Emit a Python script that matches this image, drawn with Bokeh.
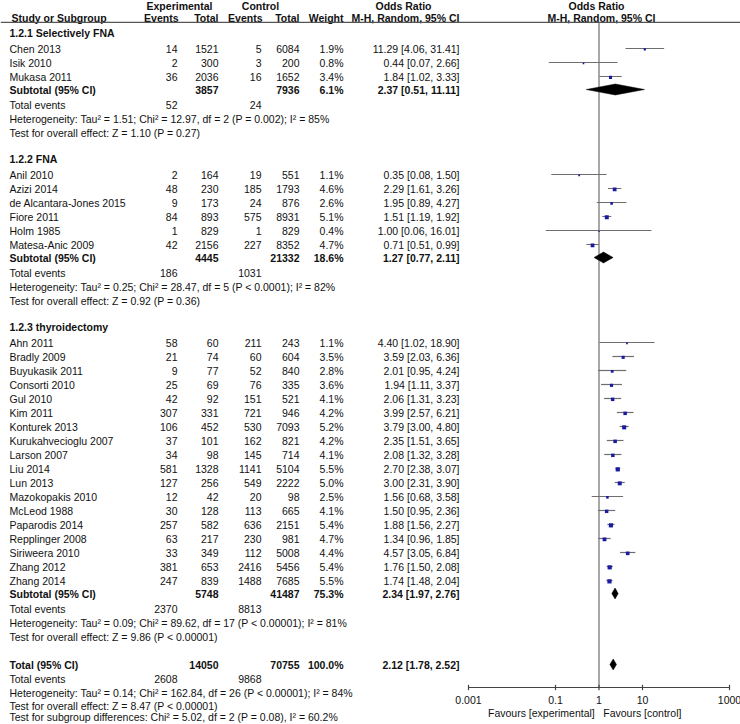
from bokeh.plotting import figure
from bokeh.models import Range1d, LogScale
from bokeh.core.properties import value
from bokeh.embed import file_html
from bokeh.resources import INLINE

# ---------------- data ----------------
group_titles = ["1.2.1 Selectively FNA", "1.2.2 FNA", "1.2.3 thyroidectomy"]

study_group = [0, 0, 0,
               1, 1, 1, 1, 1, 1,
               2, 2, 2, 2, 2, 2, 2, 2, 2, 2, 2, 2, 2, 2, 2, 2, 2, 2]
study_names = ["Chen 2013", "Isik 2010", "Mukasa 2011",
               "Anil 2010", "Azizi 2014", "de Alcantara-Jones 2015", "Fiore 2011", "Holm 1985", "Matesa-Anic 2009",
               "Ahn 2011", "Bradly 2009", "Buyukasik 2011", "Consorti 2010", "Gul 2010", "Kim 2011",
               "Konturek 2013", "Kurukahvecioglu 2007", "Larson 2007", "Liu 2014", "Lun 2013",
               "Mazokopakis 2010", "McLeod 1988", "Paparodis 2014", "Repplinger 2008", "Siriweera 2010",
               "Zhang 2012", "Zhang 2014"]
exp_events = [14, 2, 36,
              2, 48, 9, 84, 1, 42,
              58, 21, 9, 25, 42, 307, 106, 37, 34, 581, 127, 12, 30, 257, 63, 33, 381, 247]
exp_total = [1521, 300, 2036,
             164, 230, 173, 893, 829, 2156,
             60, 74, 77, 69, 92, 331, 452, 101, 98, 1328, 256, 42, 128, 582, 217, 349, 653, 839]
ctrl_events = [5, 3, 16,
               19, 185, 24, 575, 1, 227,
               211, 60, 52, 76, 151, 721, 530, 162, 145, 1141, 549, 20, 113, 636, 230, 112, 2416, 1488]
ctrl_total = [6084, 200, 1652,
              551, 1793, 876, 8931, 829, 8352,
              243, 604, 840, 335, 521, 946, 7093, 821, 714, 5104, 2222, 98, 665, 2151, 981, 5008, 5456, 7685]
weights = [1.9, 0.8, 3.4,
           1.1, 4.6, 2.6, 5.1, 0.4, 4.7,
           1.1, 3.5, 2.8, 3.6, 4.1, 4.2, 5.2, 4.2, 4.1, 5.5, 5.0, 2.5, 4.1, 5.4, 4.7, 4.4, 5.4, 5.5]
or_est = [11.29, 0.44, 1.84,
          0.35, 2.29, 1.95, 1.51, 1.00, 0.71,
          4.40, 3.59, 2.01, 1.94, 2.06, 3.99, 3.79, 2.35, 2.08, 2.70, 3.00, 1.56, 1.50, 1.88, 1.34, 4.57, 1.76, 1.74]
or_lo = [4.06, 0.07, 1.02,
         0.08, 1.61, 0.89, 1.19, 0.06, 0.51,
         1.02, 2.03, 0.95, 1.11, 1.31, 2.57, 3.00, 1.51, 1.32, 2.38, 2.31, 0.68, 0.95, 1.56, 0.96, 3.05, 1.50, 1.48]
or_hi = [31.41, 2.66, 3.33,
         1.50, 3.26, 4.27, 1.92, 16.01, 0.99,
         18.90, 6.36, 4.24, 3.37, 3.23, 6.21, 4.80, 3.65, 3.28, 3.07, 3.90, 3.58, 2.36, 2.27, 1.85, 6.84, 2.08, 2.04]

sub_exp_total = [3857, 4445, 5748]
sub_ctrl_total = [7936, 21332, 41487]
sub_weight = [6.1, 18.6, 75.3]
sub_est = [2.37, 1.27, 2.34]
sub_lo = [0.51, 0.77, 1.97]
sub_hi = [11.11, 2.11, 2.76]
sub_exp_events = [52, 186, 2370]
sub_ctrl_events = [24, 1031, 8813]
sub_het = ["Heterogeneity: Tau\u00b2 = 1.51; Chi\u00b2 = 12.97, df = 2 (P = 0.002); I\u00b2 = 85%",
           "Heterogeneity: Tau\u00b2 = 0.25; Chi\u00b2 = 28.47, df = 5 (P < 0.0001); I\u00b2 = 82%",
           "Heterogeneity: Tau\u00b2 = 0.09; Chi\u00b2 = 89.62, df = 17 (P < 0.00001); I\u00b2 = 81%"]
sub_test = ["Test for overall effect: Z = 1.10 (P = 0.27)",
            "Test for overall effect: Z = 0.92 (P = 0.36)",
            "Test for overall effect: Z = 9.86 (P < 0.00001)"]

tot_exp_total, tot_ctrl_total, tot_weight = 14050, 70755, 100.0
tot_est, tot_lo, tot_hi = 2.12, 1.78, 2.52
tot_exp_events, tot_ctrl_events = 2608, 9868
tot_het = "Heterogeneity: Tau\u00b2 = 0.14; Chi\u00b2 = 162.84, df = 26 (P < 0.00001); I\u00b2 = 84%"
tot_test = "Test for overall effect: Z = 8.47 (P < 0.00001)"
tot_subgroup = "Test for subgroup differences: Chi\u00b2 = 5.02, df = 2 (P = 0.08), I\u00b2 = 60.2%"

axis_ticks = [0.001, 0.1, 1, 10, 1000]
axis_tick_labels = ["0.001", "0.1", "1", "10", "1000"]
favours_left = "Favours [experimental]"
favours_right = "Favours [control]"

# ---------------- layout ----------------
FONT = value("Liberation Sans")
FS = "10.5px"
TXT = "#111111"

X_NAME = 9
X_EEV, X_ETOT, X_CEV, X_CTOT, X_W, X_OR = 177, 218, 261, 299, 343, 459

W, Hpx = 740, 724
ROW0, STEP = 48.0, 14.0           # pixel centre of first study row, row pitch
y_top = -ROW0 / STEP
y_bot = (Hpx - ROW0) / STEP
ONE_X, DECADE = 598.5, 43.5       # where OR = 1 sits, pixels per decade
lg_lo = -ONE_X / DECADE
lg_hi = (W - ONE_X) / DECADE

p = figure(width=W, height=Hpx, x_range=Range1d(0, W), y_range=Range1d(y_bot, y_top),
           output_backend="svg", toolbar_location=None, min_border=0,
           x_axis_location=None, y_axis_location=None)
p.grid.visible = False
p.outline_line_color = None
p.background_fill_color = "white"
p.border_fill_color = "white"
p.extra_x_ranges = {"or": Range1d(10 ** lg_lo, 10 ** lg_hi)}
p.extra_x_scales = {"or": LogScale()}

texts = {}  # key (align, bold) -> lists


def add_text(x, y, t, align="left", bold=False):
    d = texts.setdefault((align, bold), {"x": [], "y": [], "t": []})
    d["x"].append(x)
    d["y"].append(y)
    d["t"].append(t)


def fmt_or(e, lo, hi):
    return f"{e:.2f} [{lo:.2f}, {hi:.2f}]"


# headers
HR1, HR2, RULE = -3.07, -2.2, -1.86
add_text(179, HR1, "Experimental", "center", True)
add_text(260, HR1, "Control", "center", True)
add_text(403, HR1, "Odds Ratio", "center", True)
add_text(596, HR1, "Odds Ratio", "center", True)
add_text(11, HR2, "Study or Subgroup", "left", True)
add_text(178, HR2, "Events", "right", True)
add_text(218, HR2, "Total", "right", True)
add_text(262, HR2, "Events", "right", True)
add_text(299, HR2, "Total", "right", True)
add_text(343, HR2, "Weight", "right", True)
add_text(405, HR2, "M-H, Random, 95% CI", "center", True)
add_text(601, HR2, "M-H, Random, 95% CI", "center", True)

study_rows = []
sub_rows = []
row = -1
for g, title in enumerate(group_titles):
    add_text(X_NAME, row - 0.12, title, "left", True)
    row += 1
    for i in range(len(study_names)):
        if study_group[i] != g:
            continue
        study_rows.append(row)
        add_text(X_NAME, row, study_names[i])
        add_text(X_EEV, row, str(exp_events[i]), "right")
        add_text(X_ETOT, row, str(exp_total[i]), "right")
        add_text(X_CEV, row, str(ctrl_events[i]), "right")
        add_text(X_CTOT, row, str(ctrl_total[i]), "right")
        add_text(X_W, row, f"{weights[i]:.1f}%", "right")
        add_text(X_OR, row, fmt_or(or_est[i], or_lo[i], or_hi[i]), "right")
        row += 1
    sr = row - 0.07
    sub_rows.append(sr)
    add_text(X_NAME, sr, "Subtotal (95% CI)", "left", True)
    add_text(X_ETOT, sr, str(sub_exp_total[g]), "right", True)
    add_text(X_CTOT, sr, str(sub_ctrl_total[g]), "right", True)
    add_text(X_W, sr, f"{sub_weight[g]:.1f}%", "right", True)
    add_text(X_OR, sr, fmt_or(sub_est[g], sub_lo[g], sub_hi[g]), "right", True)
    row += 1
    add_text(X_NAME, row, "Total events")
    add_text(X_EEV, row, str(sub_exp_events[g]), "right")
    add_text(X_CEV, row, str(sub_ctrl_events[g]), "right")
    row += 1
    add_text(X_NAME, row, sub_het[g])
    row += 1
    add_text(X_NAME, row, sub_test[g])
    row += 2

tot_row = row
add_text(X_NAME, tot_row, "Total (95% CI)", "left", True)
add_text(X_ETOT, tot_row, str(tot_exp_total), "right", True)
add_text(X_CTOT, tot_row, str(tot_ctrl_total), "right", True)
add_text(X_W, tot_row, f"{tot_weight:.1f}%", "right", True)
add_text(X_OR, tot_row, fmt_or(tot_est, tot_lo, tot_hi), "right", True)
add_text(X_NAME, tot_row + 1, "Total events")
add_text(X_EEV, tot_row + 1, str(tot_exp_events), "right")
add_text(X_CEV, tot_row + 1, str(tot_ctrl_events), "right")
add_text(X_NAME, tot_row + 2, tot_het)
add_text(X_NAME, tot_row + 2.98, tot_test)
add_text(X_NAME, tot_row + 3.72, tot_subgroup)

for (align, bold), d in texts.items():
    p.text(x=d["x"], y=d["y"], text=d["t"], text_align=align, text_baseline="middle",
           text_font=FONT, text_font_size=FS, text_color=TXT,
           text_font_style="bold" if bold else "normal")

# header rule
p.segment(x0=[0], x1=[W], y0=[RULE], y1=[RULE], line_color="#555555", line_width=1.2)

# forest plot
axis_row = (687 - ROW0) / STEP
GRAY = "#6e6e6e"
p.segment(x0=[1], x1=[1], y0=[RULE], y1=[axis_row], line_color=GRAY, line_width=1.2,
          x_range_name="or")
p.segment(x0=or_lo, x1=or_hi, y0=study_rows, y1=study_rows, line_color=GRAY, line_width=1.2,
          x_range_name="or")
p.scatter(x=or_est, y=[r + 0.06 for r in study_rows], marker="square",
          size=[1.2 + 0.55 * w for w in weights], fill_color="#1a1aa0", line_color=None,
          x_range_name="or")

DH = 0.39
d_rows = sub_rows + [tot_row]
d_est = sub_est + [tot_est]
d_lo = sub_lo + [tot_lo]
d_hi = sub_hi + [tot_hi]
p.patches(xs=[[lo, e, hi, e] for lo, e, hi in zip(d_lo, d_est, d_hi)],
          ys=[[r, r - DH, r, r + DH] for r in d_rows],
          fill_color="black", line_color="black", line_width=0.5, x_range_name="or")

# axis
TK = 0.19
p.segment(x0=[axis_ticks[0]], x1=[axis_ticks[-1]], y0=[axis_row], y1=[axis_row],
          line_color="#444444", line_width=1.2, x_range_name="or")
p.segment(x0=axis_ticks, x1=axis_ticks, y0=[axis_row - TK] * len(axis_ticks),
          y1=[axis_row + TK] * len(axis_ticks), line_color="#444444", line_width=1.2,
          x_range_name="or")
lab_row = (699 - ROW0) / STEP
fav_row = (712 - ROW0) / STEP
p.text(x=axis_ticks, y=[lab_row] * len(axis_ticks), text=axis_tick_labels, text_align="center",
       text_baseline="middle", text_font=FONT, text_font_size=FS, text_color=TXT,
       x_range_name="or")
p.text(x=[0.8], y=[fav_row], text=[favours_left], text_align="right", text_baseline="middle",
       text_font=FONT, text_font_size=FS, text_color=TXT, x_range_name="or")
p.text(x=[1.25], y=[fav_row], text=[favours_right], text_align="left", text_baseline="middle",
       text_font=FONT, text_font_size=FS, text_color=TXT, x_range_name="or")

open("out.html", "w").write(file_html(p, INLINE))
